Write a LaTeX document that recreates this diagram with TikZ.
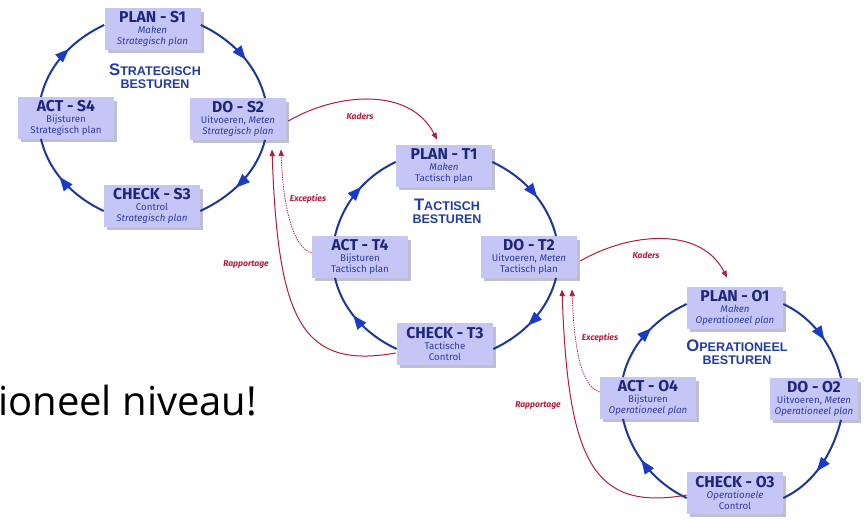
\documentclass[tikz,border=0pt]{standalone}
\usepackage{fontspec}
\newfontfamily\boxfont{Fira Sans}
\newfontfamily\headfont{Liberation Sans}
\newfontfamily\slidefont{Open Sans}
\usetikzlibrary{arrows.meta,decorations.markings,shadows,calc}

\definecolor{boxfill}{RGB}{198,198,246}
\definecolor{boxshade}{RGB}{140,140,175}
\definecolor{boxtitle}{RGB}{30,38,120}
\definecolor{boxsub}{RGB}{45,60,160}
\definecolor{cycleblue}{RGB}{30,55,150}
\definecolor{headblue}{RGB}{25,60,200}
\definecolor{titleblue}{RGB}{35,60,160}
\definecolor{flowred}{RGB}{175,30,60}

% three-line content of a PDCA box
\newcommand\boxlines[3]{{\fontsize{11.8}{11}\selectfont\bfseries\color{boxtitle}#1}\\#2\\#3}
% small-caps look: larger initial letter
\newcommand\initialcap[2]{{\fontsize{12.5}{12}\selectfont #1}#2}

\tikzset{
  stepbox/.style={fill=boxfill, minimum width=72pt, minimum height=31pt,
    inner sep=1pt, align=center, text=boxsub,
    font=\boxfont\fontsize{7.3}{8.2}\selectfont,
    drop shadow={shadow xshift=2.6pt, shadow yshift=-2.6pt, fill=boxshade, opacity=0.55}},
  cyclehead/.style={align=center, text=titleblue,
    font=\headfont\bfseries\fontsize{9.4}{9.6}\selectfont},
  cyc/.style={draw=cycleblue, line width=1.5pt, looseness=0.9,
    postaction={decorate},
    decoration={markings, mark=at position 0.57 with
      {\arrow[headblue]{Triangle[length=10.5pt,width=8pt]}}}},
  flow/.style={draw=flowred, line width=0.75pt, -{Triangle[length=5pt,width=4pt]}},
  exc/.style={flow, line width=0.6pt, dash pattern=on 1pt off 0.8pt},
  flowlabel/.style={text=flowred, font=\boxfont\bfseries\itshape\fontsize{6.4}{7}\selectfont}
}

\begin{document}
\begin{tikzpicture}[x=0.75pt, y=0.75pt]
\useasboundingbox (0,0) rectangle (864,-521);
\fill[white] (0,0) rectangle (864,-521);

% slide text behind the figure
\node[anchor=base west, inner sep=0pt, font=\slidefont\fontsize{30}{32}\selectfont]
  (slide) at (-2,-415) {ioneel niveau!};

% ---- strategic cycle ----
\node[stepbox] (sP) at (152.5,-29) {\boxlines{PLAN - S1}{\itshape Maken}{\itshape Strategisch plan}};
\node[stepbox] (sD) at (238,-119)  {\boxlines{DO - S2}{Uitvoeren, \itshape Meten}{\itshape Strategisch plan}};
\node[stepbox] (sC) at (152,-206)  {\boxlines{CHECK - S3}{Control}{\itshape Strategisch plan}};
\node[stepbox] (sA) at (66,-118)   {\boxlines{ACT - S4}{Bijsturen}{Strategisch plan}};
\node[cyclehead] (sH) at (155,-76) {\initialcap{S}{TRATEGISCH}\\BESTUREN};

% ---- tactical cycle ----
\node[stepbox] (tP) at (444,-166) {\boxlines{PLAN - T1}{\itshape Maken}{Tactisch plan}};
\node[stepbox] (tD) at (529,-257) {\boxlines{DO - T2}{Uitvoeren, \itshape Meten}{Tactisch plan}};
\node[stepbox] (tC) at (445,-344) {\boxlines{CHECK - T3}{Tactische}{Control}};
\node[stepbox] (tA) at (360,-257) {\boxlines{ACT - T4}{Bijsturen}{Tactisch plan}};
\node[cyclehead] (tH) at (447,-211) {\initialcap{T}{ACTISCH}\\BESTUREN};

% ---- operational cycle ----
\node[stepbox] (oP) at (735,-308) {\boxlines{PLAN - O1}{\itshape Maken}{\itshape Operationeel plan}};
\node[stepbox, minimum width=66pt] (oD) at (814,-399) {\boxlines{DO - O2}{Uitvoeren, \itshape Meten}{\itshape Operationeel plan}};
\node[stepbox] (oC) at (735,-493) {\boxlines{CHECK - O3}{\itshape Operationele}{Control}};
\node[stepbox] (oA) at (648,-398) {\boxlines{ACT - O4}{Bijsturen}{\itshape Operationeel plan}};
\node[cyclehead] (oH) at (737,-352) {\initialcap{O}{PERATIONEEL}\\BESTUREN};

% ---- PDCA circles (clockwise) ----
\foreach \c in {s,t,o}{
  \draw[cyc] ($(\c P.east)+(0,4)$)  to[out=-25,in=104] ($(\c D.north)+(27,0)$);
  \draw[cyc] ($(\c D.south)+(27,0)$) to[out=-104,in=25] ($(\c C.east)+(0,-5)$);
  \draw[cyc] ($(\c C.west)+(0,-5)$)  to[out=155,in=-77] ($(\c A.south)+(-25,0)$);
  \draw[cyc] ($(\c A.north)+(-25,0)$) to[out=77,in=205] ($(\c P.west)+(0,4)$);
}

% ---- frameworks passed down ----
\draw[flow] ($(sD.east)+(2,-2)$) to[out=30,in=117] ($(tP.north)+(-7,5.5)$);
\draw[flow] ($(tD.east)+(3,-4)$) to[out=30,in=117] ($(oP.north)+(-8,9.5)$);
\node[flowlabel] (k1) at (360,-116) {Kaders};
\node[flowlabel] (k2) at (646,-255) {Kaders};

% ---- reporting and exceptions passed up ----
\draw[flow] ($(tC.west)+(-1,-9)$) to[out=190,in=-88,out distance=72pt,in distance=128pt]
  ($(sD.south)+(34,-9.5)$);
\draw[exc] ($(tA.west)+(0,4)$) to[out=165,in=-88,out distance=14pt,in distance=45pt]
  ($(sD.south)+(43,-9.5)$);
\draw[flow] ($(oC.west)+(0,-2)$) to[out=190,in=-88,out distance=72pt,in distance=128pt]
  ($(tD.south)+(33,-11.5)$);
\draw[exc] ($(oA.west)+(0,6)$) to[out=165,in=-88,out distance=14pt,in distance=45pt]
  ($(tD.south)+(43,-11.5)$);
\node[flowlabel] (r1) at (246,-264) {Rapportage};
\node[flowlabel] (r2) at (538,-405) {Rapportage};
\node[flowlabel] (e1) at (308,-199) {Excepties};
\node[flowlabel] (e2) at (600,-338) {Excepties};
\end{tikzpicture}
\end{document}
